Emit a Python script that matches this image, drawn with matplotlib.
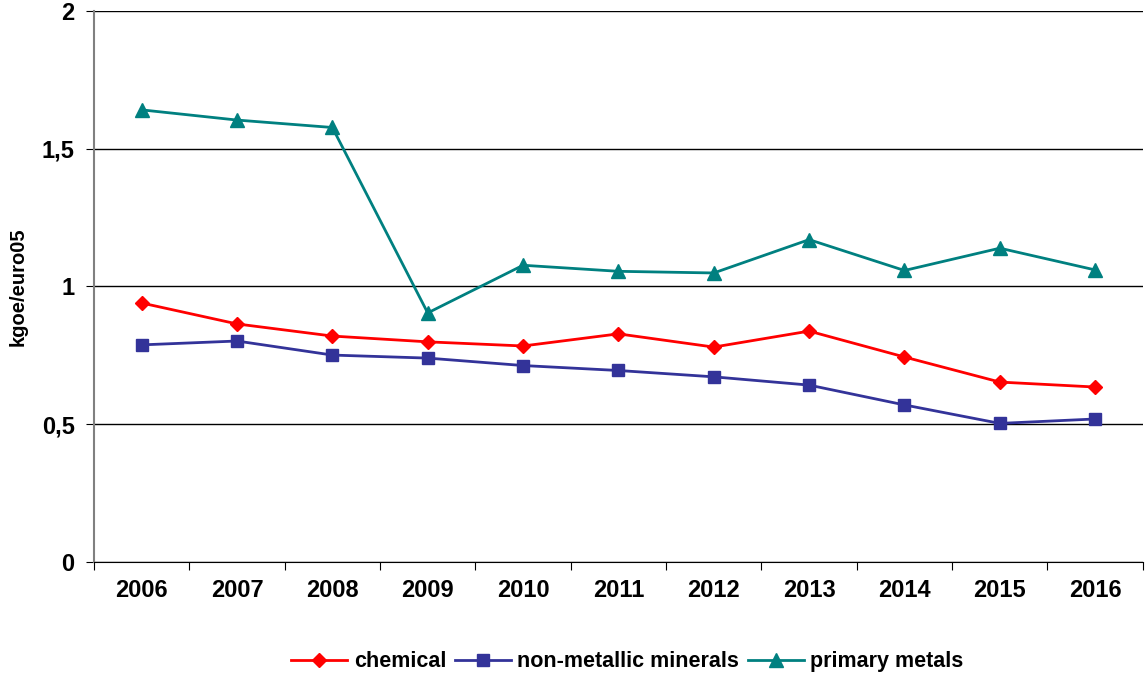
import matplotlib
matplotlib.use('Agg')
import matplotlib.pyplot as plt
import numpy as np

years = ['2006', '2007', '2008', '2009', '2010', '2011', '2012', '2013', '2014', '2015', '2016']
chemical = [0.940, 0.864, 0.820, 0.799, 0.784, 0.828, 0.780, 0.838, 0.744, 0.653, 0.635]
non_metallic = [0.788, 0.802, 0.751, 0.740, 0.713, 0.695, 0.672, 0.642, 0.570, 0.503, 0.519]
primary_metals = [1.641, 1.604, 1.577, 0.904, 1.077, 1.055, 1.049, 1.170, 1.058, 1.139, 1.060]

plt.rcParams['font.family'] = ['Liberation Sans', 'DejaVu Sans']
plt.rcParams['font.weight'] = 'bold'

fig = plt.figure(figsize=(11.45, 6.85), dpi=100)
ax = fig.add_axes([0.0821, 0.1796, 0.916, 0.8044])

x = np.arange(len(years))
ax.plot(x, chemical, color='#ff0000', lw=2, marker='D', ms=7, label='chemical')
ax.plot(x, non_metallic, color='#333399', lw=2, marker='s', ms=9, label='non-metallic minerals')
ax.plot(x, primary_metals, color='#008080', lw=2, marker='^', ms=10, label='primary metals')

ax.set_ylim(0, 2)
ax.set_yticks([0, 0.5, 1, 1.5, 2])
ax.set_yticklabels(['0', '0,5', '1', '1,5', '2'], fontsize=17, fontweight='bold')
ax.yaxis.grid(True, color='black', lw=1)
ax.set_axisbelow(True)

# category axis: ticks between years, labels centred
ax.set_xlim(-0.5, len(years) - 0.5)
ax.set_xticks(np.arange(-0.5, len(years), 1))
ax.set_xticklabels([])
ax.set_xticks(x, minor=True)
ax.set_xticklabels(years, minor=True, fontsize=17, fontweight='bold')
ax.tick_params(axis='x', which='minor', length=0, pad=12)
ax.tick_params(axis='x', which='major', length=6, color='black')
ax.tick_params(axis='y', length=6, color='black', pad=8)

ax.spines['top'].set_visible(False)
ax.spines['right'].set_visible(False)
ax.spines['left'].set_color('#808080')
ax.spines['left'].set_linewidth(1.5)
ax.spines['bottom'].set_color('black')

ax.set_ylabel('kgoe/euro05', fontsize=14.5, fontweight='bold', labelpad=10)

fig.legend(loc='lower center', bbox_to_anchor=(0.548, 0.0), ncol=3, frameon=False,
           prop={'size': 15.5, 'weight': 'bold'}, handlelength=2.6, columnspacing=0.4,
           handletextpad=0.3, borderaxespad=0.2)

fig.savefig('out.png', dpi=100)
